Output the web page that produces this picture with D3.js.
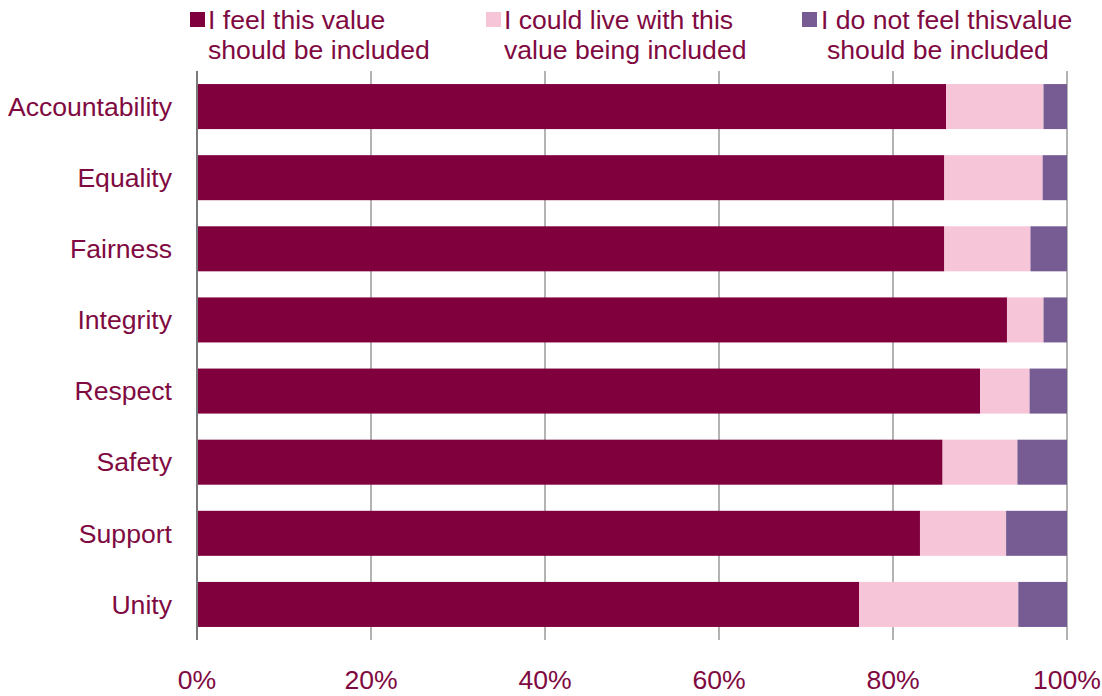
<!DOCTYPE html>
<html>
<head>
<meta charset="utf-8">
<script src="https://cdn.jsdelivr.net/npm/d3@7"></script>
<style>
  html, body { margin: 0; padding: 0; background: #fff; }
  svg { display: block; font-family: "Liberation Sans", Arial, sans-serif; }
</style>
</head>
<body>
<svg id="chart" width="1102" height="696"></svg>
<script>
// Survey responses per value (percent of respondents)
const categories = ["Accountability", "Equality", "Fairness", "Integrity", "Respect", "Safety", "Support", "Unity"];
const included    = [86.1, 85.9, 85.9, 93.1, 90.0, 85.7, 83.1, 76.1];
const couldLive   = [11.2, 11.3, 9.9, 4.2, 5.7, 8.6, 9.9, 18.3];
const notIncluded = [2.7, 2.8, 4.2, 2.7, 4.3, 5.7, 7.0, 5.6];
const xTicks = [0, 20, 40, 60, 80, 100];

const seriesKeys = ["included", "couldLive", "notIncluded"];
const seriesLabels = [
  ["I feel this value", "should be included"],
  ["I could live with this", "value being included"],
  ["I do not feel thisvalue", "should be included"]
];
const colors = ["#80003e", "#f7c5d8", "#775c94"];
const textColor = "#7f0a42";
const fontSize = 26.6;

const rows = categories.map((c, i) => ({
  category: c,
  included: included[i],
  couldLive: couldLive[i],
  notIncluded: notIncluded[i]
}));

const svg = d3.select("#chart");
const plotLeft = 197, plotRight = 1067, plotTop = 71, plotBottom = 640;

const x = d3.scaleLinear().domain([0, 100]).range([plotLeft, plotRight]);
const y = d3.scaleBand().domain(categories).range([plotTop, plotBottom])
  .paddingInner(0.367).paddingOuter(0.1835);

// vertical gridlines
svg.append("g").selectAll("line")
  .data(xTicks.filter(t => t > 0))
  .join("line")
  .attr("x1", d => x(d)).attr("x2", d => x(d))
  .attr("y1", plotTop).attr("y2", plotBottom)
  .attr("stroke", "#b3b3b3").attr("stroke-width", 2);

// stacked bars
const stacked = d3.stack().keys(seriesKeys)(rows);
svg.append("g").selectAll("g")
  .data(stacked)
  .join("g")
  .attr("fill", (d, i) => colors[i])
  .selectAll("rect")
  .data(d => d)
  .join("rect")
  .attr("x", d => x(d[0]))
  .attr("width", d => x(d[1]) - x(d[0]))
  .attr("y", d => y(d.data.category))
  .attr("height", y.bandwidth());

// category axis line
svg.append("line")
  .attr("x1", plotLeft).attr("x2", plotLeft)
  .attr("y1", plotTop).attr("y2", plotBottom)
  .attr("stroke", "#7a7a7a").attr("stroke-width", 2);

// category labels
svg.append("g").selectAll("text")
  .data(categories)
  .join("text")
  .attr("x", 172)
  .attr("y", d => y(d) + y.bandwidth() / 2)
  .attr("dy", "0.35em")
  .attr("text-anchor", "end")
  .attr("font-size", fontSize)
  .attr("fill", textColor)
  .text(d => d);

// percentage tick labels
svg.append("g").selectAll("text")
  .data(xTicks)
  .join("text")
  .attr("x", d => x(d))
  .attr("y", 689)
  .attr("text-anchor", "middle")
  .attr("font-size", fontSize)
  .attr("fill", textColor)
  .text(d => d + "%");

// legend
const legendPos = [
  { sx: 190, lines: [208, 208] },
  { sx: 486, lines: [504, 504] },
  { sx: 802, lines: [821, 827] }
];
const legend = svg.append("g");
seriesLabels.forEach((lab, i) => {
  const p = legendPos[i];
  legend.append("rect")
    .attr("x", p.sx).attr("y", 12)
    .attr("width", 15).attr("height", 15)
    .attr("fill", colors[i]);
  lab.forEach((t, j) => {
    legend.append("text")
      .attr("x", p.lines[j])
      .attr("y", 29 + j * 30)
      .attr("font-size", fontSize)
      .attr("fill", textColor)
      .text(t);
  });
});
</script>
</body>
</html>
